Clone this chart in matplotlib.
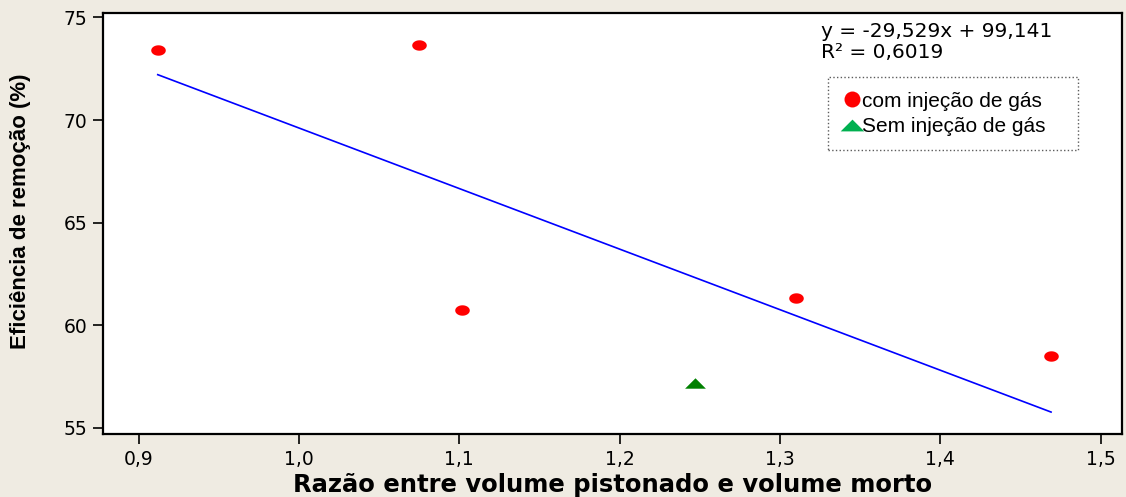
import matplotlib
matplotlib.use('Agg')
import matplotlib.pyplot as plt
from matplotlib.lines import Line2D
import numpy as np

# data
x_com = [0.912, 1.075, 1.102, 1.310, 1.469]
y_com = [73.39, 73.66, 60.73, 61.32, 58.49]
x_sem = [1.247]
y_sem = [57.17]

slope, intercept, r2 = -29.529, 99.141, 0.6019

xticks = [0.9, 1.0, 1.1, 1.2, 1.3, 1.4, 1.5]
yticks = [55, 60, 65, 70, 75]

bg = '#EFEBE2'
fig = plt.figure(figsize=(11.26, 4.97), dpi=100, facecolor=bg)
ax = fig.add_axes([0.0911, 0.1258, 0.9053, 0.849])
ax.set_facecolor('white')

# trend line over range of data
xl = np.array([min(x_com), max(x_com)])
ax.plot(xl, slope * xl + intercept, color='#0000FF', lw=1.2, zorder=2)

t = np.linspace(0, 2 * np.pi, 40)
ell = list(zip(1.4 * np.cos(t), np.sin(t)))
tri = [(-1, -0.5), (1, -0.5), (0, 0.5)]
ax.plot(x_com, y_com, marker=ell, ls='none', color='#FF0000', ms=10.5, mec='none', zorder=3)
ax.plot(x_sem, y_sem, marker=tri, ls='none', color='#008000', ms=15, mec='none', zorder=3)

ax.set_xlim(0.8776, 1.5132)
ax.set_ylim(54.67, 75.24)
ax.set_xticks(xticks)
ax.set_xticklabels([f'{v:.1f}'.replace('.', ',') for v in xticks])
ax.set_yticks(yticks)
ax.tick_params(direction='out', length=7, width=1.2, labelsize=13.5, colors='black', pad=4)
for s in ax.spines.values():
    s.set_linewidth(1.6)

ax.set_xlabel('Razão entre volume pistonado e volume morto', fontsize=17.5,
              fontweight='bold', labelpad=3)
ax.set_ylabel('Eficiência de remoção (%)', fontsize=16, fontweight='bold',
              family=['Liberation Sans Narrow', 'Liberation Sans'])
ax.yaxis.set_label_coords(-0.070, 0.53)

ax.text(0.705, 0.978, 'y = -29,529x + 99,141\nR² = 0,6019', transform=ax.transAxes,
        fontsize=14.5, va='top', ha='left', linespacing=1.12)

handles = [Line2D([], [], marker='o', ls='none', color='#FF0000', ms=11.5, mec='none'),
           Line2D([], [], marker=tri, ls='none', color='#00B050', ms=17, mec='none')]
leg = ax.legend(handles, ['com injeção de gás   ', 'Sem injeção de gás   '],
                loc='upper left', bbox_to_anchor=(0.7116, 0.847),
                prop={'family': 'Liberation Sans', 'size': 15},
                handlelength=0.9, handletextpad=0.05, labelspacing=0.3,
                borderpad=0.7, borderaxespad=0, fancybox=False, frameon=True)
fr = leg.get_frame()
fr.set_linestyle(':')
fr.set_edgecolor('#333333')
fr.set_linewidth(1.0)

fig.savefig('out.png', dpi=100, facecolor=bg)
